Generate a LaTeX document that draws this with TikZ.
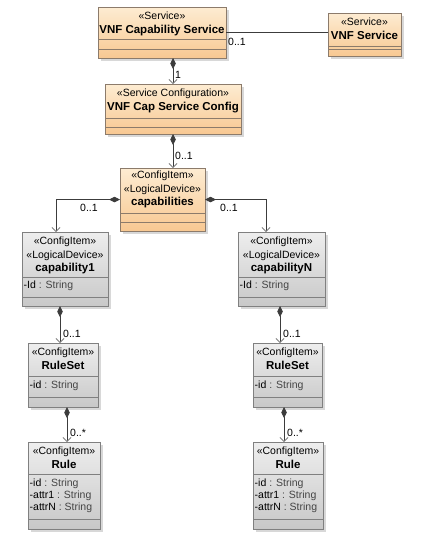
\documentclass[tikz,border=0pt]{standalone}
\usepackage{fontspec}
\setmainfont{Liberation Sans}
\usepackage{tikz}
\usetikzlibrary{arrows.meta, shadows, positioning}
\definecolor{svctop}{HTML}{FDECD2}
\definecolor{svcbot}{HTML}{F8C892}
\definecolor{svcline}{HTML}{8C7B6B}
\definecolor{itemtop}{HTML}{EEEEEE}
\definecolor{itembot}{HTML}{C8C8C8}
\definecolor{itemline}{HTML}{808080}
\definecolor{connline}{HTML}{3C3C3C}
\definecolor{typegray}{HTML}{454545}
\newcommand{\stereo}[1]{«#1»}
\newcommand{\umlname}[1]{{\fontsize{11.5}{14}\selectfont\textbf{#1}}}
\newcommand{\umlattr}[2]{#1 \textcolor{typegray}{: #2}}
\tikzstyle{boxshadow} = [drop shadow={shadow xshift=2.5pt, shadow yshift=-2.5pt, fill=black!30, opacity=0.5}]
\tikzstyle{svcclass} = [rectangle, draw=svcline, line width=0.8pt, top color=svctop, bottom color=svcbot,
                        inner sep=0, outer sep=0, boxshadow]
\tikzstyle{itemclass} = [rectangle, draw=itemline, line width=0.8pt, top color=itemtop, bottom color=itembot,
                         inner sep=0, outer sep=0, boxshadow]
\tikzstyle{svcsep} = [draw=svcline, line width=0.8pt]
\tikzstyle{itemsep} = [draw=itemline, line width=0.8pt]
\tikzstyle{title} = [anchor=north, align=center, inner sep=0, font=\fontsize{10.5}{13.5}\selectfont]
\tikzstyle{attrs} = [anchor=north west, align=left, inner sep=0, font=\fontsize{10.5}{12}\selectfont]
\tikzstyle{mult} = [anchor=west, inner sep=0, font=\fontsize{10.5}{12}\selectfont]
\tikzstyle{assoc} = [draw=connline, line width=0.8pt]
\tikzstyle{comp} = [draw=connline, line width=0.8pt,
                    {Diamond[length=11pt, width=5.5pt, fill=connline]}-{Straight Barb[length=4pt, width=8pt, color=gray]}]

\begin{document}
\begin{tikzpicture}[x=1pt, y=-1pt]
	\useasboundingbox [fill=white] (0, 0) rectangle (422, 541);

	% services
	\node (capSvc) [svcclass, minimum width=128pt, minimum height=51pt] at (162, 32.5) {};
	\node (capSvcT) [title] at ([yshift=-5pt]capSvc.north) {\stereo{Service}\\\umlname{VNF Capability Service}};
	\draw [svcsep] ([yshift=-32pt]capSvc.north west) -- ([yshift=-32pt]capSvc.north east);
	\draw [svcsep] ([yshift=-42pt]capSvc.north west) -- ([yshift=-42pt]capSvc.north east);

	\node (vnfSvc) [svcclass, minimum width=73pt, minimum height=43pt] at (364.5, 34.5) {};
	\node (vnfSvcT) [title] at ([yshift=-5pt]vnfSvc.north) {\stereo{Service}\\\umlname{VNF Service}};
	\draw [svcsep] ([yshift=-33.5pt]vnfSvc.north west) -- ([yshift=-33.5pt]vnfSvc.north east);
	\draw [svcsep] ([yshift=-36pt]vnfSvc.north west) -- ([yshift=-36pt]vnfSvc.north east);

	\draw [assoc] (capSvc.east) -- (capSvc.east -| vnfSvc.west);
	\node (capSvcMul) [mult] at (228, 42) {0..1};

	% service configuration
	\node (capCfg) [svcclass, minimum width=136pt, minimum height=50pt] at (173, 109) {};
	\node (capCfgT) [title] at ([yshift=-5pt]capCfg.north) {\stereo{Service Configuration}\\\umlname{VNF Cap Service Config}};
	\draw [svcsep] ([yshift=-34pt]capCfg.north west) -- ([yshift=-34pt]capCfg.north east);
	\draw [svcsep] ([yshift=-43pt]capCfg.north west) -- ([yshift=-43pt]capCfg.north east);

	\draw [comp] (capCfg.north |- capSvc.south) -- (capCfg.north);
	\node (capCfgMul) [mult] at (175, 75) {1};

	% capabilities
	\node (caps) [svcclass, minimum width=85pt, minimum height=63pt] at (162.5, 199.5) {};
	\node (capsT) [title] at ([yshift=-3pt]caps.north) {\stereo{ConfigItem}\\\stereo{LogicalDevice}\\\umlname{capabilities}};
	\draw [svcsep] ([yshift=-45pt]caps.north west) -- ([yshift=-45pt]caps.north east);
	\draw [svcsep] ([yshift=-54pt]caps.north west) -- ([yshift=-54pt]caps.north east);

	\draw [comp] (capCfg.south) -- (capCfg.south |- caps.north);
	\node (capsMul) [mult] at (175, 156) {0..1};

	% capability1 branch
	\node (cap1) [itemclass, minimum width=86pt, minimum height=74pt] at (65, 269) {};
	\node (cap1T) [title] at ([yshift=-5pt]cap1.north) {\stereo{ConfigItem}\\\stereo{LogicalDevice}\\\umlname{capability1}};
	\draw [itemsep] ([yshift=-45pt]cap1.north west) -- ([yshift=-45pt]cap1.north east);
	\draw [itemsep] ([yshift=-65pt]cap1.north west) -- ([yshift=-65pt]cap1.north east);
	\node (cap1A) [attrs] at ([xshift=1.5pt, yshift=-49pt]cap1.north west) {\umlattr{-Id}{String}};

	\coordinate (cap1In) at ([xshift=-9pt]cap1.north);
	\draw [comp] (caps.west) -| (cap1In);
	\node (cap1Mul) [mult] at (80, 208) {0..1};

	\node (rs1) [itemclass, minimum width=70pt, minimum height=64pt] at (63, 375) {};
	\node (rs1T) [title] at ([yshift=-5pt]rs1.north) {\stereo{ConfigItem}\\\umlname{RuleSet}};
	\draw [itemsep] ([yshift=-33pt]rs1.north west) -- ([yshift=-33pt]rs1.north east);
	\draw [itemsep] ([yshift=-54pt]rs1.north west) -- ([yshift=-54pt]rs1.north east);
	\node (rs1A) [attrs] at ([xshift=1.5pt, yshift=-38pt]rs1.north west) {\umlattr{-id}{String}};

	\coordinate (cap1Out) at ([xshift=-5pt]cap1.south);
	\draw [comp] (cap1Out) -- (cap1Out |- rs1.north);
	\node (rs1Mul) [mult] at (63, 334) {0..1};

	\node (rule1) [itemclass, minimum width=72pt, minimum height=87pt] at (64, 485.5) {};
	\node (rule1T) [title] at ([yshift=-5pt]rule1.north) {\stereo{ConfigItem}\\\umlname{Rule}};
	\draw [itemsep] ([yshift=-32pt]rule1.north west) -- ([yshift=-32pt]rule1.north east);
	\draw [itemsep] ([yshift=-77pt]rule1.north west) -- ([yshift=-77pt]rule1.north east);
	\node (rule1A) [attrs] at ([xshift=1.5pt, yshift=-37pt]rule1.north west)
		{\umlattr{-id}{String}\\\umlattr{-attr1}{String}\\\umlattr{-attrN}{String}};

	\coordinate (rs1Out) at ([xshift=4pt]rs1.south);
	\draw [comp] (rs1Out) -- (rs1Out |- rule1.north);
	\node (rule1Mul) [mult] at (70, 433) {0..*};

	% capabilityN branch
	\node (capN) [itemclass, minimum width=87pt, minimum height=74pt] at (281.5, 269) {};
	\node (capNT) [title] at ([yshift=-5pt]capN.north) {\stereo{ConfigItem}\\\stereo{LogicalDevice}\\\umlname{capabilityN}};
	\draw [itemsep] ([yshift=-45pt]capN.north west) -- ([yshift=-45pt]capN.north east);
	\draw [itemsep] ([yshift=-65pt]capN.north west) -- ([yshift=-65pt]capN.north east);
	\node (capNA) [attrs] at ([xshift=1.5pt, yshift=-49pt]capN.north west) {\umlattr{-Id}{String}};

	\coordinate (capNIn) at ([xshift=-15.5pt]capN.north);
	\draw [comp] (caps.east) -| (capNIn);
	\node (capNMul) [mult] at (220, 208) {0..1};

	\node (rsN) [itemclass, minimum width=69pt, minimum height=64pt] at (287.5, 375) {};
	\node (rsNT) [title] at ([yshift=-5pt]rsN.north) {\stereo{ConfigItem}\\\umlname{RuleSet}};
	\draw [itemsep] ([yshift=-33pt]rsN.north west) -- ([yshift=-33pt]rsN.north east);
	\draw [itemsep] ([yshift=-54pt]rsN.north west) -- ([yshift=-54pt]rsN.north east);
	\node (rsNA) [attrs] at ([xshift=1.5pt, yshift=-38pt]rsN.north west) {\umlattr{-id}{String}};

	\coordinate (capNOut) at ([xshift=-1.5pt]capN.south);
	\draw [comp] (capNOut) -- (capNOut |- rsN.north);
	\node (rsNMul) [mult] at (283, 334) {0..1};

	\node (ruleN) [itemclass, minimum width=70pt, minimum height=87pt] at (288, 485.5) {};
	\node (ruleNT) [title] at ([yshift=-5pt]ruleN.north) {\stereo{ConfigItem}\\\umlname{Rule}};
	\draw [itemsep] ([yshift=-32pt]ruleN.north west) -- ([yshift=-32pt]ruleN.north east);
	\draw [itemsep] ([yshift=-77pt]ruleN.north west) -- ([yshift=-77pt]ruleN.north east);
	\node (ruleNA) [attrs] at ([xshift=1.5pt, yshift=-37pt]ruleN.north west)
		{\umlattr{-id}{String}\\\umlattr{-attr1}{String}\\\umlattr{-attrN}{String}};

	\coordinate (rsNOut) at ([xshift=-3.5pt]rsN.south);
	\draw [comp] (rsNOut) -- (rsNOut |- ruleN.north);
	\node (ruleNMul) [mult] at (287, 433) {0..*};
\end{tikzpicture}
\end{document}
